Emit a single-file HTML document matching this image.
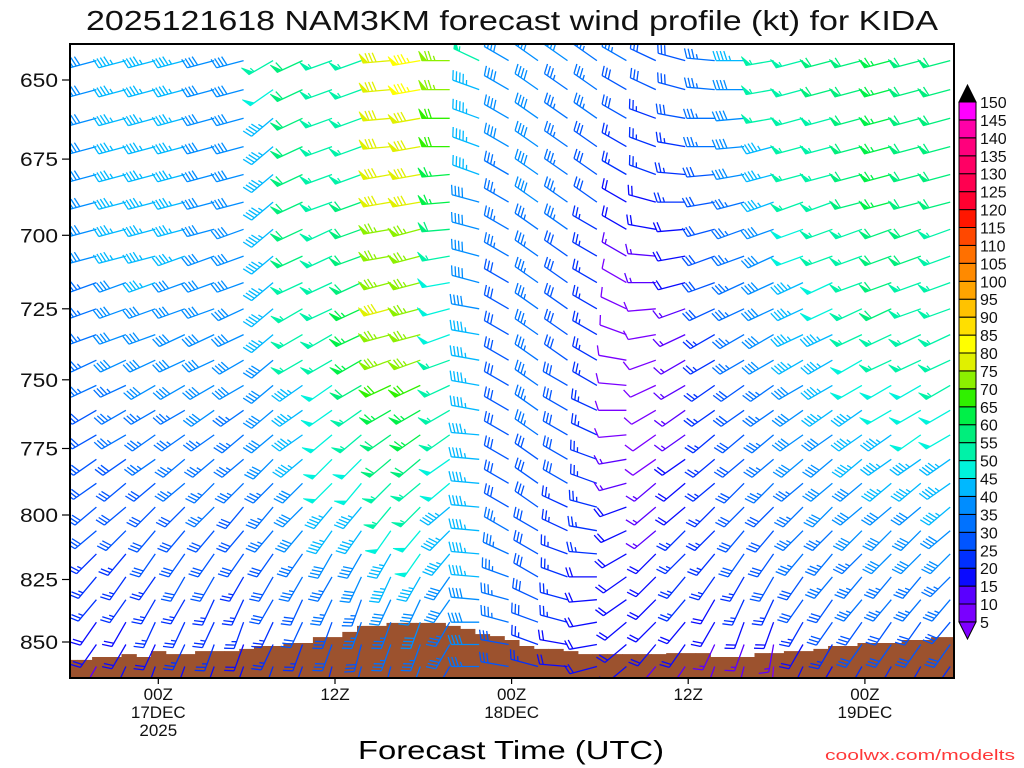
<!DOCTYPE html>
<html><head><meta charset="utf-8"><title>NAM3KM wind profile KIDA</title>
<style>
html,body{margin:0;padding:0;background:#fff;}
svg{display:block;font-family:"Liberation Sans",sans-serif;}
</style></head>
<body>
<svg id="chart" width="1024" height="768" viewBox="0 0 1024 768" xmlns="http://www.w3.org/2000/svg">
  <defs><clipPath id="plotClip"><rect x="70" y="44" width="884" height="634"/></clipPath></defs>
  <text x="512" y="30" text-anchor="middle" font-size="28" textLength="852" lengthAdjust="spacingAndGlyphs" fill="#111">2025121618 NAM3KM forecast wind profile (kt) for KIDA</text>
  <g id="terrain" clip-path="url(#plotClip)"></g>
  <g id="barbs" clip-path="url(#plotClip)"></g>
  <rect x="70" y="44" width="884" height="634" fill="none" stroke="#000" stroke-width="2"/>
  <g id="yaxis"></g>
  <g id="xaxis"></g>
  <g id="colorbar"></g>
  <text x="511" y="759" text-anchor="middle" font-size="26" textLength="306" lengthAdjust="spacingAndGlyphs" fill="#000">Forecast Time (UTC)</text>
  <text x="1015" y="760" text-anchor="end" font-size="15" textLength="190" lengthAdjust="spacingAndGlyphs" fill="#ff3838">coolwx.com/modelts</text>
</svg>
<script>
// ---- data ----
const levels = [644,653,662,671,680,689,698,707,716,725,734,743,752,761,770,779,788,797,806,815,824,833,842,851,860];
const hours = [0,2,4,6,8,10,12,14,16,18,20,22,24,26,28,30,32,34,36,38,40,42,44,46,48,50,52,54,56,58,60];
const yTicks = [650,675,700,725,750,775,800,825,850];
const xTickHours = [6,18,30,42,54];
const xTickLabels = [["00Z","17DEC","2025"],["12Z"],["00Z","18DEC"],["12Z"],["00Z","19DEC"]];
const sfcPressure = [857.3,857.3,856.1,856.1,854.9,856.1,853.7,854.9,854.9,853.7,853.7,853.7,852.8,851.6,851.6,850.4,850.4,848.0,848.0,845.9,843.5,843.5,842.3,842.3,842.3,842.3,843.5,844.7,846.8,847.6,849.2,851.6,852.8,852.8,853.7,854.9,854.9,854.9,854.9,854.9,854.9,854.5,854.5,854.5,856.1,856.1,856.1,854.5,854.5,853.7,853.7,852.8,851.6,851.6,850.4,850.4,850.4,849.2,849.2,848.0,848.0];
const speeds = [
[40,40,40,40,40,40,40,40,40,40,35,35,35,35,35,35,35,35,30,30,30,30,25,20,15],
[40,40,40,40,40,40,40,40,35,35,35,35,35,30,30,30,30,30,30,25,25,25,20,20,15],
[45,45,45,45,45,45,45,45,40,40,40,40,35,35,35,30,30,30,30,25,25,25,20,20,20],
[45,45,45,45,45,45,45,45,45,40,40,40,40,35,35,35,30,30,30,30,25,25,25,20,20],
[45,45,45,45,45,45,45,45,40,40,40,40,40,35,35,35,35,30,30,30,30,25,25,25,20],
[40,40,40,40,40,40,40,40,40,40,40,40,40,40,35,35,35,35,30,30,30,25,25,25,20],
[40,40,40,40,40,40,40,40,40,40,40,40,40,35,35,35,35,30,30,30,25,25,25,20,20],
[55,50,45,45,45,45,45,45,45,45,45,40,40,40,40,40,35,35,35,30,30,30,25,25,25],
[60,60,60,60,60,60,60,60,55,55,55,55,45,45,45,45,40,40,40,35,35,30,30,25,25],
[55,55,55,55,55,55,55,55,55,55,55,55,50,50,50,50,50,45,45,40,35,35,30,30,25],
[55,55,55,55,55,60,60,60,60,65,65,65,60,55,55,50,50,45,45,40,40,35,35,30,30],
[80,80,80,80,80,80,75,75,75,80,75,75,70,65,60,60,55,55,50,45,45,40,35,35,30],
[85,85,80,80,80,80,75,75,75,75,75,75,70,65,65,60,55,55,50,50,45,40,40,35,35],
[75,75,70,70,65,65,60,55,50,50,50,55,55,55,55,50,50,45,45,45,40,40,35,35,30],
[55,45,45,45,45,40,40,40,40,40,45,45,45,45,45,45,45,45,45,45,45,40,40,40,35],
[40,40,40,40,35,35,35,35,30,30,30,30,30,30,30,30,30,30,35,35,35,35,35,30,30],
[40,40,40,40,40,40,35,35,35,35,35,35,35,35,35,30,30,30,30,30,30,30,30,25,25],
[40,35,35,35,35,35,35,30,30,30,30,30,30,30,30,30,30,25,25,25,25,25,25,20,20],
[35,35,35,30,30,30,25,25,25,25,25,25,25,25,25,25,25,25,25,25,20,20,20,20,20],
[35,30,30,25,25,20,20,15,10,10,10,10,10,10,10,15,15,20,20,20,20,20,20,20,20],
[30,30,25,25,25,20,20,15,15,10,10,10,10,10,10,10,15,15,15,20,20,20,20,20,15],
[30,30,30,25,25,25,20,20,20,15,15,15,15,15,15,20,20,20,25,25,25,25,20,20,15],
[35,35,35,35,30,30,30,30,30,30,25,25,25,25,25,25,25,25,25,25,25,20,20,15,15],
[45,40,40,40,40,35,35,35,35,35,35,35,30,30,30,30,30,30,30,30,25,25,20,15,15],
[55,55,55,45,45,45,40,40,40,40,40,40,35,35,35,35,35,30,30,30,30,25,20,15,10],
[55,55,55,55,55,55,50,50,45,45,45,45,40,40,40,40,35,35,35,35,30,30,25,20,20],
[60,60,55,55,55,55,55,55,50,50,45,45,45,45,40,40,40,40,35,35,35,30,30,25,20],
[60,60,60,60,60,60,55,55,55,55,55,50,50,45,45,45,40,40,40,35,35,35,30,30,25],
[65,65,65,65,65,65,60,60,60,60,55,55,50,50,45,45,45,40,40,40,35,35,30,30,25],
[60,60,60,60,60,60,60,60,55,55,55,55,50,50,50,45,45,40,40,40,35,35,30,30,25],
[60,60,60,60,60,60,55,55,55,55,55,55,55,50,50,45,45,45,40,40,35,35,30,30,25]
];
const directions = [
[255,255,255,255,255,255,255,255,250,250,250,250,245,245,240,240,235,235,230,230,225,225,220,220,215],
[255,255,255,255,255,255,255,255,250,250,250,245,245,240,240,235,235,230,230,225,220,220,215,215,210],
[255,255,255,255,255,255,255,255,250,250,250,245,245,240,240,235,230,230,225,220,215,215,210,210,205],
[255,255,255,255,255,255,255,255,250,250,250,245,240,240,235,235,230,225,220,215,215,210,205,205,200],
[255,255,255,255,255,255,255,250,250,250,245,245,240,240,235,230,230,225,220,215,210,210,205,205,200],
[255,255,255,255,255,255,255,250,250,250,245,245,240,235,235,230,225,225,220,215,210,205,205,200,200],
[255,255,255,255,255,255,250,250,250,245,245,240,240,235,230,230,225,220,220,215,210,205,200,200,200],
[240,235,230,230,230,230,230,230,230,230,230,230,230,230,230,225,225,220,220,215,210,210,205,205,200],
[245,245,245,245,245,245,245,245,245,240,240,240,235,235,235,230,225,225,220,215,210,205,205,200,200],
[250,250,250,250,250,250,245,245,245,245,240,240,235,235,230,225,225,220,215,210,210,205,200,200,195],
[250,250,250,250,250,250,250,250,245,245,245,240,240,235,230,225,220,220,215,210,205,200,200,195,195],
[265,265,265,265,260,260,260,260,255,255,255,250,245,240,235,230,225,220,215,210,205,205,200,200,195],
[260,260,260,260,260,260,255,255,255,255,255,250,245,240,235,230,230,225,220,215,210,205,200,200,200],
[270,270,270,270,265,265,265,260,260,255,250,250,245,240,235,235,230,230,225,220,215,215,210,210,210],
[295,290,290,290,290,285,285,285,285,280,280,280,280,280,275,275,275,275,275,275,275,275,270,270,270],
[300,300,300,300,300,300,300,300,300,300,300,300,300,300,300,300,300,300,300,295,290,285,285,280,280],
[305,305,305,305,305,305,305,305,305,305,305,305,305,305,305,305,305,305,300,300,300,295,290,290,285],
[305,305,305,305,305,305,305,305,305,305,305,305,300,300,300,300,300,295,295,290,290,285,285,280,275],
[305,305,305,305,305,305,300,300,300,300,300,300,300,295,295,290,290,285,280,275,270,265,260,260,255],
[300,300,300,300,300,300,300,300,300,295,290,280,275,270,265,260,255,250,245,240,235,235,230,230,230],
[295,295,290,290,290,285,280,275,270,265,260,250,245,240,235,235,230,230,230,225,225,225,225,220,220],
[285,285,280,280,275,270,265,260,255,250,245,240,240,235,235,235,230,230,225,225,220,220,220,215,215],
[275,275,270,270,265,260,255,250,250,245,240,240,235,235,230,230,230,225,225,220,215,210,210,205,200],
[270,270,265,265,260,255,250,250,245,245,240,240,235,235,230,230,225,225,220,215,210,205,200,200,195],
[260,260,260,255,255,250,250,245,245,245,240,240,235,235,230,230,225,225,220,215,210,205,200,190,185],
[255,255,255,255,255,250,250,250,245,245,245,240,240,235,235,230,230,225,225,220,215,215,210,210,205],
[255,255,255,255,255,250,250,250,245,245,245,240,240,235,235,230,230,225,225,220,220,215,215,210,210],
[255,255,255,255,255,255,250,250,250,245,245,240,240,235,235,230,230,230,225,225,220,220,215,215,210],
[255,255,255,255,255,255,250,250,250,245,245,245,240,240,235,235,230,230,225,225,220,220,215,215,210],
[255,255,255,255,255,255,250,250,250,250,245,245,240,240,235,235,230,230,225,225,220,220,215,215,210],
[255,255,255,255,255,255,250,250,250,250,245,245,240,240,240,235,235,230,230,225,225,220,220,215,215]
];
const cbLevels = [5,10,15,20,25,30,35,40,45,50,55,60,65,70,75,80,85,90,95,100,105,110,115,120,125,130,135,140,145,150];
const cbColors = ["#7a00ff","#5a00ff","#0a0aff","#0030ff","#0055ff","#0072ff","#008dff","#00b8ff","#00f2dc","#00f2a8","#00ee7c","#00f048","#30f000","#8cf000","#e0f000","#ffff00","#ffdf00","#ffc200","#ffa400","#ff8a00","#ff7000","#ff4800","#ff1600","#ff0030","#ff0050","#ff0064","#ff007c","#ff00a8","#ff00ff"];
const cbUnder = "#8000ff", cbOver = "#000000";

// ---- scales ----
const NS = "http://www.w3.org/2000/svg";
const X0 = 70, PXH = 14.72;
function xOf(h){ return X0 + h*PXH; }
function yOf(p){ return 80 + 2095*Math.log(p/650); }
function colorOf(s){
  if (s < cbLevels[0]) return cbUnder;
  for (let k=0;k<cbLevels.length-1;k++){ if (s <= cbLevels[k+1]) return cbColors[k]; }
  return cbOver;
}
function mk(tag, attrs, parent){
  const e = document.createElementNS(NS, tag);
  for (const k in attrs) e.setAttribute(k, attrs[k]);
  parent.appendChild(e); return e;
}

// ---- terrain ----
const gT = document.getElementById('terrain');
sfcPressure.forEach((p,h)=>{
  const x1 = xOf(h-0.5), x2 = xOf(h+0.5), y = yOf(p);
  const r = mk('rect',{x:x1.toFixed(1),y:y.toFixed(1),width:(x2-x1+0.6).toFixed(1),height:(680-y).toFixed(1),fill:'#9c522e'},gT);
  
  
});

// ---- barbs ----
const gB = document.getElementById('barbs');
const STAFF = 28, FL = 10, SP = 3.6, ROT = 72*Math.PI/180;
hours.forEach((h,ci)=>{
  levels.forEach((p,ri)=>{
    const s = speeds[ci][ri], dir = directions[ci][ri];
    const sx = xOf(h) - 3, sy = yOf(p);
    const th = dir*Math.PI/180;
    const dx = Math.sin(th), dy = -Math.cos(th);
    const tx = sx + dx*STAFF, ty = sy + dy*STAFF;
    const fx = dx*Math.cos(ROT) - dy*Math.sin(ROT), fy = dx*Math.sin(ROT) + dy*Math.cos(ROT);
    const col = colorOf(s);
    const g = mk('g',{stroke:col,fill:col,'stroke-width':'1.3'},gB);
    
    
    mk('line',{x1:sx.toFixed(1),y1:sy.toFixed(1),x2:tx.toFixed(1),y2:ty.toFixed(1)},g);
    let r = Math.round(s/5)*5;
    let n50 = Math.floor(r/50); r -= n50*50;
    let n10 = Math.floor(r/10); r -= n10*10;
    let n5 = r>=5 ? 1 : 0;
    let pos = 0;
    for (let i=0;i<n50;i++){
      const ax = tx - dx*pos, ay = ty - dy*pos;
      const bx = tx - dx*(pos+5), by = ty - dy*(pos+5);
      mk('polygon',{points:`${ax.toFixed(1)},${ay.toFixed(1)} ${(ax+fx*FL).toFixed(1)},${(ay+fy*FL).toFixed(1)} ${bx.toFixed(1)},${by.toFixed(1)}`,'stroke-width':'0.8'},g);
      pos += 6;
    }
    if (n50===0 && n10===0 && n5===1) pos = SP;
    for (let i=0;i<n10;i++){
      const ax = tx - dx*pos, ay = ty - dy*pos;
      mk('line',{x1:ax.toFixed(1),y1:ay.toFixed(1),x2:(ax+fx*FL).toFixed(1),y2:(ay+fy*FL).toFixed(1)},g);
      pos += SP;
    }
    if (n5){
      const ax = tx - dx*pos, ay = ty - dy*pos;
      mk('line',{x1:ax.toFixed(1),y1:ay.toFixed(1),x2:(ax+fx*FL*0.5).toFixed(1),y2:(ay+fy*FL*0.5).toFixed(1)},g);
    }
  });
});

// ---- y axis ----
const gY = document.getElementById('yaxis');
yTicks.forEach(p=>{
  const y = yOf(p);
  const t = mk('line',{x1:62,y1:y.toFixed(1),x2:70,y2:y.toFixed(1),stroke:'#000','stroke-width':'1.2'},gY);
  
  
  const l = mk('text',{x:58,y:(y+7).toFixed(1),'text-anchor':'end','font-size':'19',fill:'#111',textLength:'38',lengthAdjust:'spacingAndGlyphs'},gY);
  l.textContent = String(p);
  
  
});

// ---- x axis ----
const gX = document.getElementById('xaxis');
xTickHours.forEach((h,i)=>{
  const x = xOf(h);
  const t = mk('line',{x1:x.toFixed(1),y1:678,x2:x.toFixed(1),y2:684,stroke:'#000','stroke-width':'1.2'},gX);
  
  
  xTickLabels[i].forEach((s,j)=>{
    const l = mk('text',{x:x.toFixed(1),y:700+j*18,'text-anchor':'middle','font-size':'17',fill:'#111'},gX);
    l.textContent = s;
    
    
  });
});

// ---- colorbar ----
const gC = document.getElementById('colorbar');
const CBX = 959, CBW = 17, CBTOP = 102, CBSTEP = 17.93;
function cbY(v){ return CBTOP + (150 - v)/5*CBSTEP; }
cbColors.forEach((c,k)=>{
  const yTop = cbY(cbLevels[k+1]), yBot = cbY(cbLevels[k]);
  const r = mk('rect',{x:CBX,y:yTop.toFixed(1),width:CBW,height:(yBot-yTop).toFixed(1),fill:c,stroke:'#000','stroke-width':'1'},gC);
  
  
});
const over = mk('polygon',{points:`${CBX},${CBTOP} ${CBX+CBW},${CBTOP} ${CBX+CBW/2},${CBTOP-17}`,fill:cbOver,stroke:'#000'},gC);


const yb = cbY(5);
const under = mk('polygon',{points:`${CBX},${yb} ${CBX+CBW},${yb} ${CBX+CBW/2},${yb+17}`,fill:cbUnder,stroke:'#000'},gC);


cbLevels.forEach(v=>{
  const l = mk('text',{x:980,y:(cbY(v)+6).toFixed(1),'font-size':'16',fill:'#111'},gC);
  l.textContent = String(v);
  
  
});
</script>
</body></html>
